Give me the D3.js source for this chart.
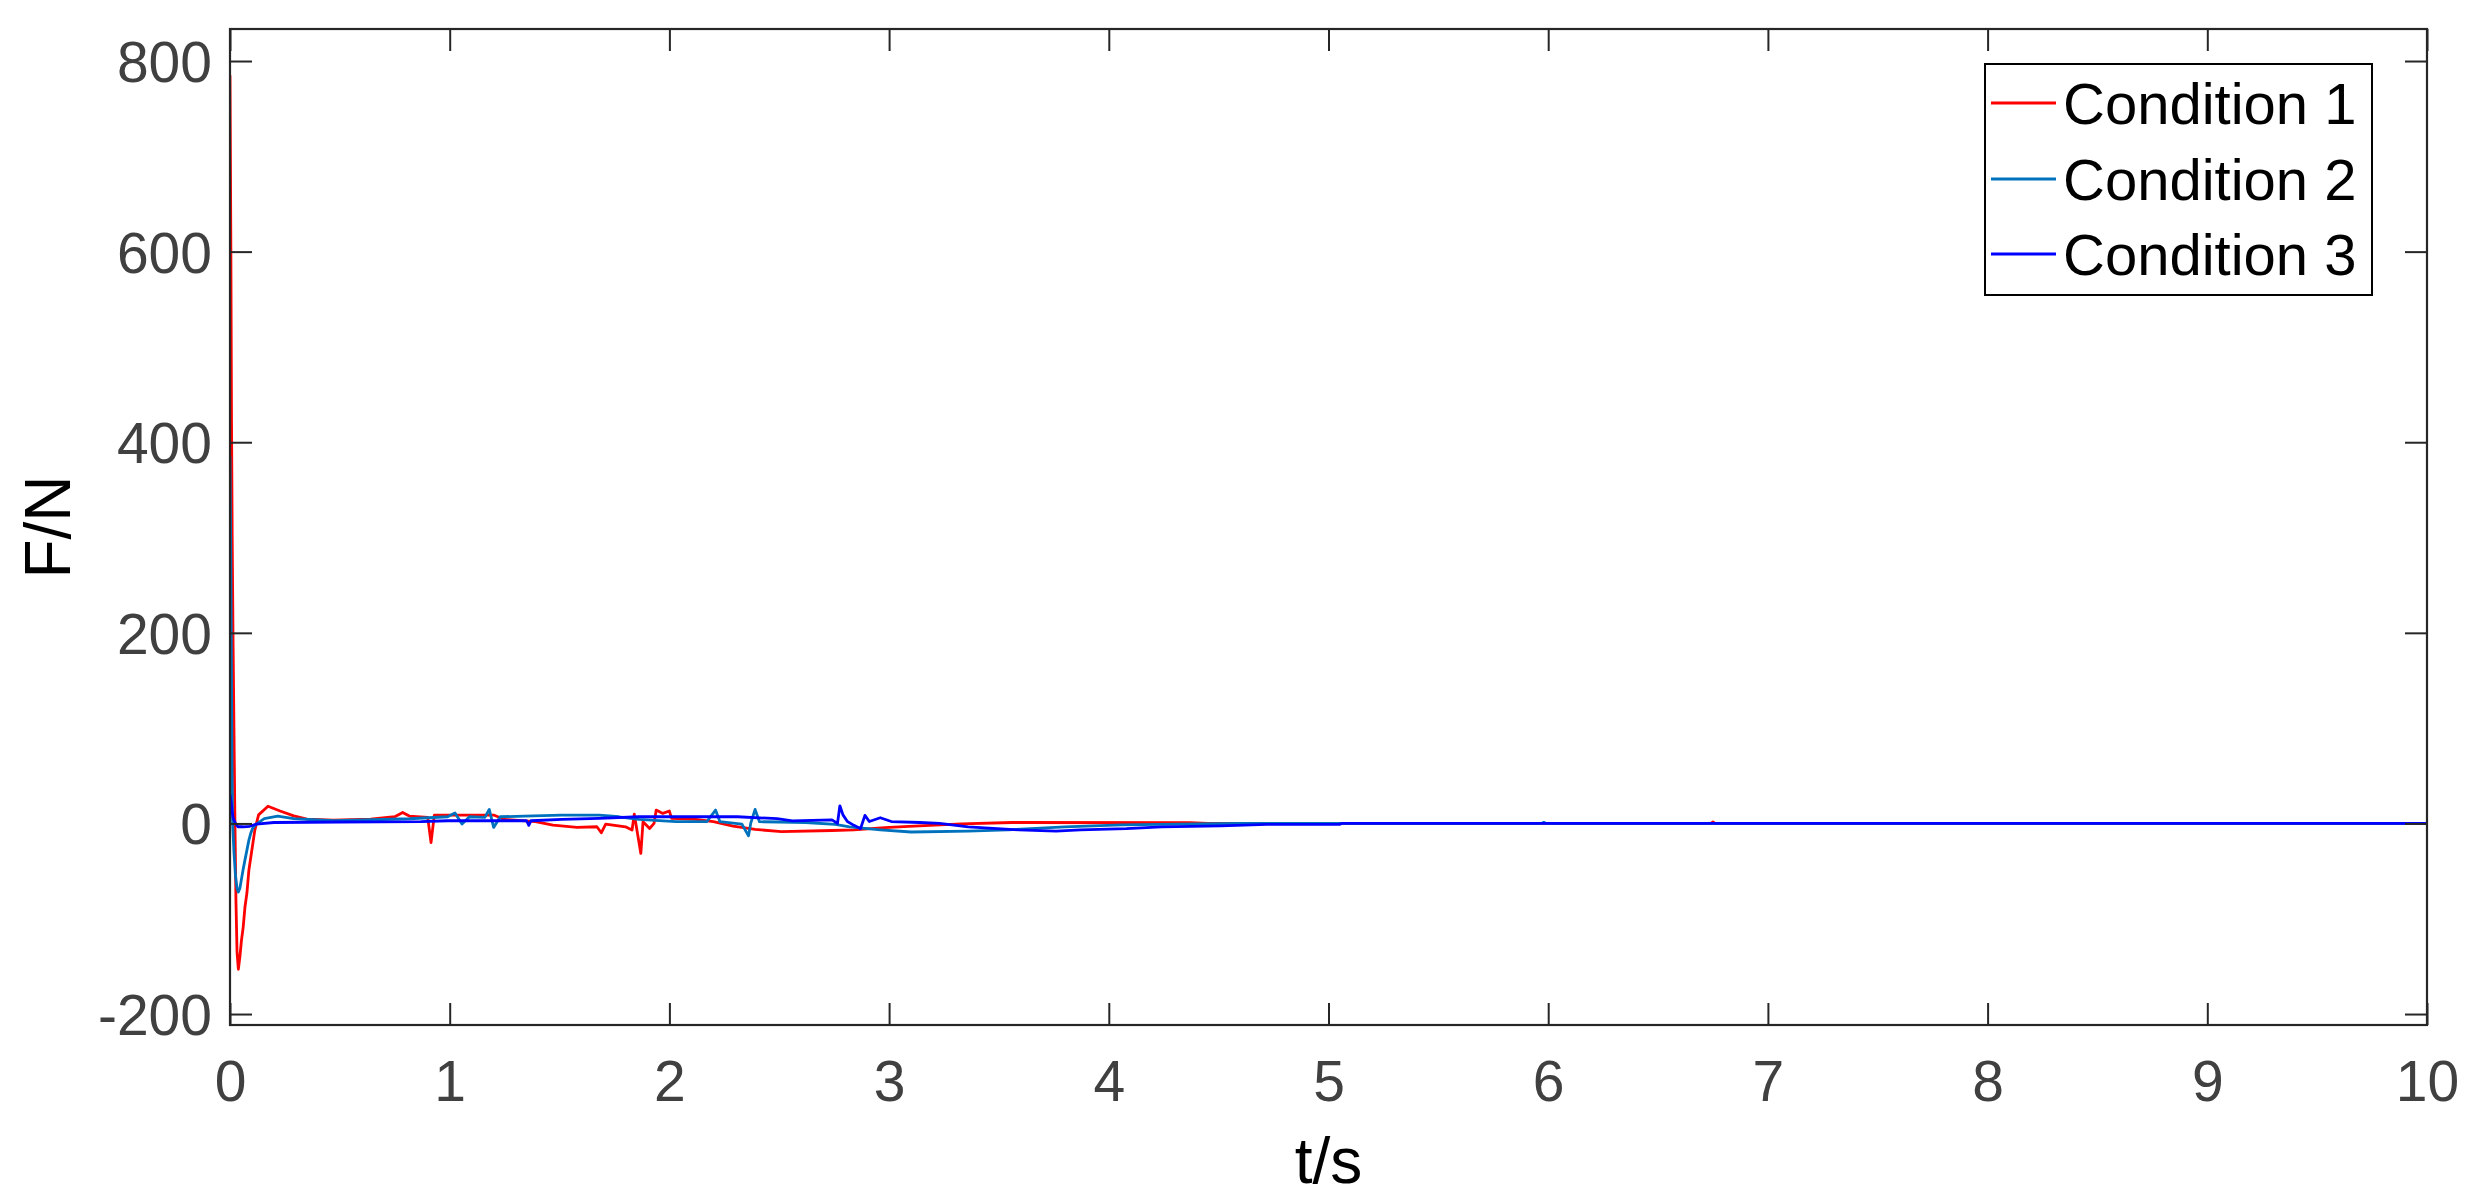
<!DOCTYPE html>
<html>
<head>
<meta charset="utf-8">
<script src="https://cdn.jsdelivr.net/npm/d3@7"></script>
<style>
  html, body { margin: 0; padding: 0; background: #ffffff; }
  svg { display: block; }
  text { font-family: "Liberation Sans", Arial, Helvetica, sans-serif; }
</style>
</head>
<body>
<svg id="chart" width="2474" height="1196"></svg>
<script>
// ---------------- data ----------------
const seriesNames = ["Condition 1", "Condition 2", "Condition 3"];
const seriesColors = ["#ff0000", "#0072bd", "#0000ff"];

const xTicks = [0, 1, 2, 3, 4, 5, 6, 7, 8, 9, 10];
const yTicks = [-200, 0, 200, 400, 600, 800];

// Condition 1 (red)
const t1 = [0, 0.004, 0.007, 0.01, 0.014, 0.018, 0.022, 0.027, 0.032, 0.038, 0.045, 0.052, 0.06, 0.068, 0.077, 0.086, 0.095, 0.113, 0.13, 0.173, 0.228, 0.29, 0.35, 0.47,
  0.64, 0.75, 0.786, 0.816, 0.90, 0.915, 0.93, 0.99, 1.20, 1.25, 1.39, 1.47, 1.58, 1.67, 1.69, 1.71, 1.80, 1.83, 1.84, 1.87, 1.88, 1.91, 1.93, 1.94, 1.97, 2.0, 2.01,
  2.12, 2.2, 2.29, 2.39, 2.51, 2.74, 2.84, 2.98, 3.09, 3.33, 3.56, 4.37, 4.45, 6.74, 6.75, 6.76, 10];
const f1 = [785, 600, 420, 300, 190, 100, 10, -80, -135, -153, -140, -123, -109, -88, -73, -49, -35, -7, 9, 18, 13, 8, 4.5, 3.5,
  4.5, 7, 11.5, 7.7, 6.3, -20, 8.8, 8.8, 8.8, 4.2, 1.8, -1.8, -4.2, -3.5, -9.8, -0.7, -3.5, -7, 9.8, -31.5, 1.8, -5.3, 0, 14, 10.5, 13, 5.3,
  4.2, 1.8, -2.8, -6.3, -8.5, -7.4, -6.7, -4.4, -3, -0.4, 1, 0.7, 0, 0, 1.5, 0, 0];

// Condition 2 (MATLAB blue)
const t2 = [0, 0.003, 0.006, 0.009, 0.012, 0.018, 0.025, 0.032, 0.038, 0.045, 0.051, 0.06, 0.068, 0.077, 0.086, 0.095, 0.103, 0.12, 0.156, 0.217, 0.29, 0.47,
  0.816, 0.99, 1.024, 1.056, 1.09, 1.16, 1.18, 1.20, 1.23, 1.34, 1.51, 1.68, 1.77, 1.86, 2.03, 2.17, 2.21, 2.23, 2.33, 2.36, 2.37, 2.39, 2.41, 2.5,
  2.62, 2.755, 2.82, 2.96, 3.1, 3.36, 3.54, 3.8, 4.06, 4.4, 4.6, 5.97, 5.98, 5.99, 10];
const f2 = [385, 300, 180, 60, 0, -30, -55, -68, -72, -68, -60, -48, -38.5, -28, -17.5, -10, -5, -0.7, 5, 7.7, 5, 2.8,
  4.9, 7, 11, -0.7, 7, 6.3, 14.7, -4.2, 7, 7.7, 8.8, 8.8, 7, 4.2, 1.8, 1.8, 14, 1.8, -0.7, -13, 0, 14.7, 1.8, 1.5,
  1, -1, -3.7, -6.7, -9, -8, -6.7, -3.7, -1.5, -0.4, 0, 0, 1.2, 0, 0];

// Condition 3 (pure blue)
const t3 = [0, 0.005, 0.01, 0.015, 0.025, 0.036, 0.06, 0.09, 0.12, 0.2, 0.5, 0.87, 0.99, 1.35, 1.36, 1.37, 1.51, 1.68, 1.86, 2.31, 2.49, 2.56, 2.74,
  2.765, 2.776, 2.79, 2.81, 2.84, 2.87, 2.89, 2.91, 2.96, 3.01, 3.14, 3.23, 3.36, 3.59, 3.76, 3.87, 4.08, 4.24, 4.51, 4.72, 5.05, 5.06, 10];
const f3 = [30, 23, 12, 5, 0, -3.5, -3.5, -3, -0.7, 1, 1.5, 1.8, 2.8, 2.8, -2, 2.8, 4.2, 5.3, 7, 7, 5, 2.6, 3.7,
  0, 18.5, 9, 2, -2, -5.5, 8.5, 2, 6, 2, 1, 0, -3.7, -6.7, -8, -6.7, -5.5, -3.7, -2.6, -1, -1, 0, 0];

const seriesT = [t1, t2, t3];
const seriesF = [f1, f2, f3];

// ---------------- layout ----------------
const W = 2474, H = 1196;
const plot = { left: 230, right: 2427, top: 29, bottom: 1025 };
const axisColor = "#262626";
const labelColor = "#404040";
const tickLen = 22;

const svg = d3.select("#chart");
svg.append("rect").attr("width", W).attr("height", H).attr("fill", "#ffffff");

const x = d3.scaleLinear().domain([0, 10]).range([plot.left, plot.right]);
const y = d3.scaleLinear().domain([-211.5, 833.6]).range([plot.bottom, plot.top]);

svg.append("defs").append("clipPath").attr("id", "clip")
  .append("rect")
  .attr("x", plot.left).attr("y", plot.top)
  .attr("width", plot.right - plot.left).attr("height", plot.bottom - plot.top);

// data lines
const line = d3.line().x(d => x(d[0])).y(d => y(d[1]));
const gLines = svg.append("g").attr("clip-path", "url(#clip)");
seriesT.forEach((ts, i) => {
  const pts = ts.map((t, k) => [t, seriesF[i][k]]);
  gLines.append("path")
    .datum(pts)
    .attr("d", line)
    .attr("fill", "none")
    .attr("stroke", seriesColors[i])
    .attr("stroke-width", 2.8)
    .attr("stroke-linejoin", "round");
});

// axes (MATLAB-style box with inward ticks on all sides)
const fmt = d => String(d);  // plain hyphen-minus like MATLAB
const xAxisB = d3.axisBottom(x).tickValues(xTicks).tickSizeInner(-tickLen).tickSizeOuter(0).tickPadding(0).tickFormat(fmt);
const xAxisT = d3.axisTop(x).tickValues(xTicks).tickSizeInner(-tickLen).tickSizeOuter(0).tickFormat("");
const yAxisL = d3.axisLeft(y).tickValues(yTicks).tickSizeInner(-tickLen).tickSizeOuter(0).tickFormat(fmt);
const yAxisR = d3.axisRight(y).tickValues(yTicks).tickSizeInner(-tickLen).tickSizeOuter(0).tickFormat("");

function styleAxis(g) {
  g.select(".domain").remove();
  g.selectAll(".tick line").attr("stroke", axisColor).attr("stroke-width", 2);
}

const gxb = svg.append("g").attr("transform", `translate(0,${plot.bottom})`).call(xAxisB).call(styleAxis);
gxb.selectAll(".tick text")
  .attr("y", 76).attr("dy", null)
  .attr("font-size", 57).attr("fill", labelColor)
  .attr("font-family", "Liberation Sans, Arial, sans-serif");

svg.append("g").attr("transform", `translate(0,${plot.top})`).call(xAxisT).call(styleAxis);

const gyl = svg.append("g").attr("transform", `translate(${plot.left},0)`).call(yAxisL).call(styleAxis);
gyl.selectAll(".tick text")
  .attr("x", -18).attr("dy", "0.36em")
  .attr("font-size", 57).attr("fill", labelColor)
  .attr("font-family", "Liberation Sans, Arial, sans-serif");

svg.append("g").attr("transform", `translate(${plot.right},0)`).call(yAxisR).call(styleAxis);

// box
svg.append("rect")
  .attr("x", plot.left).attr("y", plot.top)
  .attr("width", plot.right - plot.left).attr("height", plot.bottom - plot.top)
  .attr("fill", "none").attr("stroke", axisColor).attr("stroke-width", 2.2);

// axis labels
svg.append("text")
  .attr("x", (plot.left + plot.right) / 2).attr("y", 1183)
  .attr("text-anchor", "middle").attr("font-size", 64).attr("fill", "#000000")
  .text("t/s");

svg.append("text")
  .attr("transform", `translate(70,${(plot.top + plot.bottom) / 2}) rotate(-90)`)
  .attr("text-anchor", "middle").attr("font-size", 64).attr("fill", "#000000")
  .text("F/N");

// legend
const legend = { x: 1985, y: 64, w: 387, h: 231 };
svg.append("rect")
  .attr("x", legend.x).attr("y", legend.y).attr("width", legend.w).attr("height", legend.h)
  .attr("fill", "#ffffff").attr("stroke", "#000000").attr("stroke-width", 2);
const rowY = [103, 179, 254];
seriesNames.forEach((name, i) => {
  svg.append("line")
    .attr("x1", 1991).attr("x2", 2056).attr("y1", rowY[i]).attr("y2", rowY[i])
    .attr("stroke", seriesColors[i]).attr("stroke-width", 2.8);
  svg.append("text")
    .attr("x", 2063).attr("y", rowY[i] + 21)
    .attr("font-size", 58).attr("fill", "#000000")
    .text(name);
});
</script>
</body>
</html>
